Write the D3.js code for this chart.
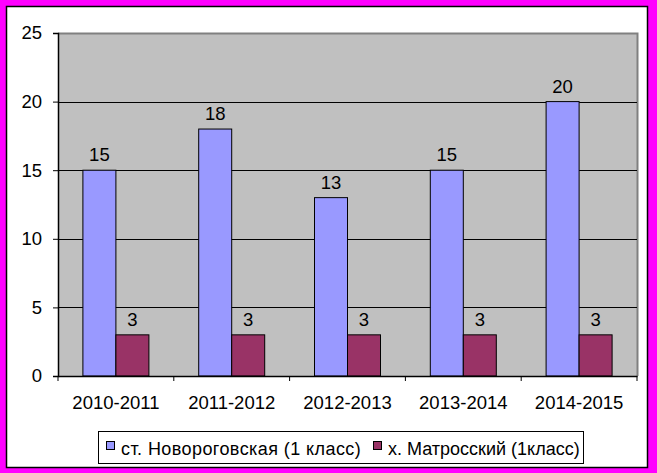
<!DOCTYPE html>
<html><head><meta charset="utf-8">
<script src="https://cdn.jsdelivr.net/npm/d3@7"></script>
<style>body{margin:0;background:#fff}svg{display:block}</style>
</head><body>
<script>
const categories = ["2010-2011","2011-2012","2012-2013","2013-2014","2014-2015"];
const seriesNames = ["ст. Новороговская (1 класс)","х. Матросский (1класс)"];
const series1 = [15,18,13,15,20];
const series2 = [3,3,3,3,3];
const yTicks = [0,5,10,15,20,25];
const colors = ["#9999FF","#993366"];

const W=657,H=473;
const svg=d3.select("body").append("svg").attr("width",W).attr("height",H);
svg.append("rect").attr("width",W).attr("height",H).attr("fill","#FF00FF");
svg.append("rect").attr("x",6.5).attr("y",6.5).attr("width",641).attr("height",461).attr("fill","#fff").attr("stroke","#000").attr("stroke-width",1.5);

const L=58,T=33,R=637,B=376;
const x=d3.scaleBand().domain(categories).range([L,R]);
const y=d3.scaleLinear().domain([0,25]).range([B,T]);
const font="Arial, 'Liberation Sans', sans-serif";
const fs=18.5;

svg.append("rect").attr("x",L).attr("y",T).attr("width",R-L).attr("height",B-T).attr("fill","#C0C0C0");
svg.append("path").attr("d",`M${L},${T+0.5}H${R+0.5}V${B}`).attr("fill","none").attr("stroke","#808080").attr("stroke-width",2);
svg.append("g").selectAll("line").data(yTicks.filter(d=>d>0&&d<25)).join("line")
  .attr("x1",L).attr("x2",R).attr("y1",d=>Math.round(y(d))+0.5).attr("y2",d=>Math.round(y(d))+0.5)
  .attr("stroke","#000").attr("stroke-width",1);

const bw=33;
const data=[series1,series2];
data.forEach((s,si)=>{
  const g=svg.append("g");
  g.selectAll("rect").data(s).join("rect")
    .attr("x",(d,i)=>x(categories[i])+x.bandwidth()/2-bw+si*bw)
    .attr("y",d=>y(d)).attr("width",bw).attr("height",d=>B-y(d))
    .attr("fill",colors[si]).attr("stroke","#000").attr("stroke-width",1);
  g.selectAll("text").data(s).join("text")
    .attr("x",(d,i)=>x(categories[i])+x.bandwidth()/2-bw/2+si*bw)
    .attr("y",d=>y(d)-9).attr("text-anchor","middle")
    .attr("font-family",font).attr("font-size",fs).text(d=>d);
});

const ya=svg.append("g").attr("transform",`translate(${L},0)`)
  .call(d3.axisLeft(y).tickValues(yTicks).tickSize(5).tickPadding(11));
ya.select(".domain").attr("stroke","#000").attr("stroke-width",1.5);
ya.selectAll("text").attr("font-family",font).attr("font-size",fs).attr("fill","#000");
const xa=svg.append("g").attr("transform",`translate(0,${B})`)
  .call(d3.axisBottom(x).tickSize(0).tickPadding(20));
xa.select(".domain").attr("stroke","#000").attr("stroke-width",1.5);
xa.selectAll("text").attr("font-family",font).attr("font-size",fs).attr("fill","#000");
svg.append("g").selectAll("line").data(d3.range(categories.length+1)).join("line")
  .attr("x1",i=>L+i*x.step()).attr("x2",i=>L+i*x.step()).attr("y1",B).attr("y2",B+5).attr("stroke","#000");

const lg=svg.append("g");
lg.append("rect").attr("x",98.5).attr("y",431.5).attr("width",485).attr("height",32).attr("fill","#fff").attr("stroke","#000");
const lx=[106,373];
const ls=[0.42,0];
seriesNames.forEach((n,i)=>{
  lg.append("rect").attr("x",lx[i]+0.5).attr("y",441.5).attr("width",8).attr("height",8).attr("fill",colors[i]).attr("stroke","#000");
  lg.append("text").attr("x",lx[i]+15).attr("y",455).attr("font-family",font).attr("font-size",18)
    .attr("letter-spacing",ls[i]).text(n);
});
</script>
</body></html>
